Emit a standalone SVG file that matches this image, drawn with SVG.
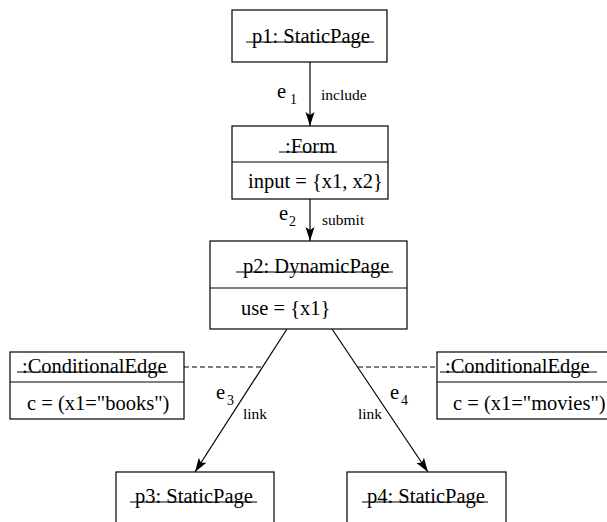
<svg xmlns="http://www.w3.org/2000/svg" width="607" height="522" viewBox="0 0 607 522">
<style>
text{font-family:"Liberation Serif","Times New Roman",serif;fill:#000}
.t{font-size:20.5px}
.s{font-size:14px}
.l{font-size:15.5px}
.box{fill:#fff;stroke:#000;stroke-width:1.2}
.ul{stroke:#000;stroke-width:1}
.edge{stroke:#000;stroke-width:1.2;fill:none}
.dash{stroke:#000;stroke-width:1;stroke-dasharray:5,3;fill:none}
</style>
<defs>
<marker id="arr" viewBox="-15 -5 16 10" refX="0" refY="0" markerWidth="16" markerHeight="10" markerUnits="userSpaceOnUse" orient="auto">
<path d="M0,0 L-14,-4.5 L-11,0 L-14,4.5 Z" fill="#000"/>
</marker>
</defs>
<rect width="607" height="522" fill="#fff"/>
<g id="connectors">
<line class="edge" x1="310" y1="62" x2="310" y2="126" marker-end="url(#arr)"/>
<text class="t" x="277" y="98">e</text><text class="s" x="290" y="104">1</text>
<text class="l" x="321" y="100">include</text>
<line class="edge" x1="310" y1="199" x2="310" y2="241" marker-end="url(#arr)"/>
<text class="t" x="279" y="220">e</text><text class="s" x="289" y="226">2</text>
<text class="l" x="322" y="225">submit</text>
<line class="edge" x1="287" y1="329" x2="195" y2="472" marker-end="url(#arr)"/>
<text class="t" x="216" y="399">e</text><text class="s" x="227" y="405">3</text>
<text class="l" x="243" y="419">link</text>
<line class="edge" x1="332" y1="329" x2="428" y2="472" marker-end="url(#arr)"/>
<text class="t" x="390" y="399">e</text><text class="s" x="401" y="405">4</text>
<text class="l" x="358" y="419">link</text>
<line class="dash" x1="184" y1="367" x2="263" y2="367"/>
<line class="dash" x1="358" y1="367" x2="437" y2="367"/>
</g>
<g id="p1">
<rect class="box" x="232" y="10" width="155" height="52"/>
<text class="t" x="252" y="43">p1: StaticPage</text>
<line class="ul" x1="246" y1="42" x2="374" y2="42"/>
</g>
<g id="form">
<rect class="box" x="232" y="126" width="156" height="73"/>
<line class="ul" x1="232" y1="162" x2="388" y2="162"/>
<text class="t" x="285" y="153">:Form</text>
<line class="ul" x1="279" y1="152" x2="337" y2="152"/>
<text class="t" x="248" y="188">input = {x1, x2}</text>
</g>
<g id="p2">
<rect class="box" x="210" y="241" width="197" height="88"/>
<line class="ul" x1="210" y1="288" x2="407" y2="288"/>
<text class="t" x="243" y="273">p2: DynamicPage</text>
<line class="ul" x1="236" y1="272" x2="393" y2="272"/>
<text class="t" x="241" y="315">use = {x1}</text>
</g>
<g id="ce1">
<rect class="box" x="10" y="352" width="174" height="67"/>
<line class="ul" x1="10" y1="382" x2="184" y2="382"/>
<text class="t" x="22" y="373">:ConditionalEdge</text>
<line class="ul" x1="17" y1="372" x2="168" y2="372"/>
<text class="t" x="27" y="410">c = (x1="books")</text>
</g>
<g id="ce2">
<rect class="box" x="437" y="352" width="176" height="67"/>
<line class="ul" x1="437" y1="382" x2="613" y2="382"/>
<text class="t" x="445" y="373">:ConditionalEdge</text>
<line class="ul" x1="440" y1="372" x2="597" y2="372"/>
<text class="t" x="453" y="410">c = (x1="movies")</text>
</g>
<g id="p3">
<rect class="box" x="116" y="472" width="158" height="53"/>
<text class="t" x="135" y="503">p3: StaticPage</text>
<line class="ul" x1="130" y1="502" x2="257" y2="502"/>
</g>
<g id="p4">
<rect class="box" x="347" y="472" width="159" height="53"/>
<text class="t" x="367" y="503">p4: StaticPage</text>
<line class="ul" x1="362" y1="502" x2="488" y2="502"/>
</g>
</svg>
